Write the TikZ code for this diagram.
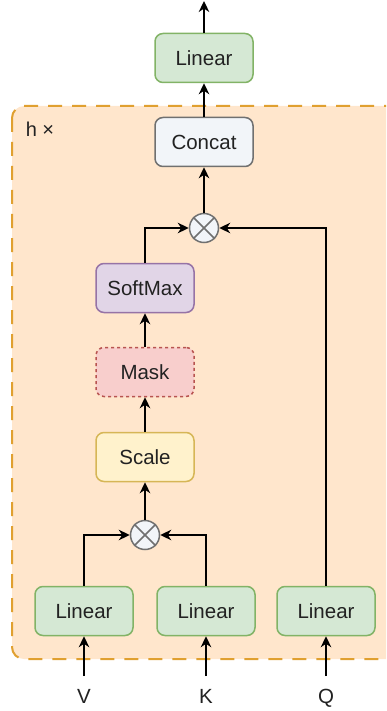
\documentclass[tikz,border=0pt]{standalone}
\usepackage{fontspec}
\setmainfont{Liberation Sans}
\usetikzlibrary{arrows.meta}

\definecolor{grpfill}{HTML}{FFE6CC}
\definecolor{grpline}{HTML}{E0A030}
\definecolor{linfill}{HTML}{D5E8D4}
\definecolor{linline}{HTML}{82B366}
\definecolor{catfill}{HTML}{F2F5F9}
\definecolor{catline}{HTML}{707070}
\definecolor{smfill}{HTML}{E1D5E7}
\definecolor{smline}{HTML}{9673A6}
\definecolor{mskfill}{HTML}{F8CECC}
\definecolor{mskline}{HTML}{B85450}
\definecolor{scfill}{HTML}{FFF2CC}
\definecolor{scline}{HTML}{D6B656}
\definecolor{txt}{HTML}{222222}

\tikzset{
  block/.style={draw, rounded corners=8pt, line width=1.5pt, minimum width=98pt,
    minimum height=49pt, inner sep=0pt, font=\fontsize{20.5}{23}\selectfont, text=txt},
  linblock/.style={block, fill=linfill, draw=linline},
  mult/.style={circle, draw=catline, fill=catfill, line width=1.5pt, minimum size=29pt, inner sep=0pt},
  inlabel/.style={font=\fontsize{20.5}{23}\selectfont, text=txt, inner sep=0pt, anchor=base},
  flow/.style={line width=2pt, -{Stealth[length=11pt,width=10.5pt,inset=3.5pt]}}
}

\begin{document}
\begin{tikzpicture}[x=1pt, y=-1pt]
\clip (0,0) rectangle (386,711);
\useasboundingbox (0,0) rectangle (386,711);

% repeated head
\draw[fill=grpfill, draw=grpline, line width=2pt, dash pattern=on 14pt off 10pt, rounded corners=12pt]
  (12,106) rectangle (410,659);
\node[font=\fontsize{20}{22}\selectfont, text=txt] at (40,129) {h ×};

\node[linblock] (lv) at (84,611) {Linear};
\node[linblock] (lk) at (206,611) {Linear};
\node[linblock] (lq) at (326,611) {Linear};

\node[inlabel] (v) at (84,703) {V};
\node[inlabel] (k) at (206,703) {K};
\node[inlabel] (q) at (326,703) {Q};
\coordinate (vin) at (84,676);
\coordinate (kin) at (206,676);
\coordinate (qin) at (326,676);

\node[mult] (mul1) at (145,535) {};
\node[block, fill=scfill, draw=scline] (scale) at (145,457) {Scale};
\node[block, fill=mskfill, draw=mskline, dashed] (mask) at (145,372) {Mask};
\node[block, fill=smfill, draw=smline] (sm) at (145,288) {SoftMax};
\node[mult] (mul2) at (204,228) {};
\node[block, fill=catfill, draw=catline] (concat) at (204,142) {Concat};
\node[linblock] (lout) at (204,58) {Linear};
\coordinate (out) at (204,1);

% crosses in the product nodes
\foreach \m in {mul1, mul2} {
  \draw[catline, line width=1.5pt] (\m.north west) -- (\m.south east);
  \draw[catline, line width=1.5pt] (\m.north east) -- (\m.south west);
}

\draw[flow] (vin) -- (lv);
\draw[flow] (kin) -- (lk);
\draw[flow] (qin) -- (lq);
\draw[flow] (lv.north) |- (mul1.west);
\draw[flow] (lk.north) |- (mul1.east);
\draw[flow] (mul1) -- (scale);
\draw[flow] (scale) -- (mask);
\draw[flow] (mask) -- (sm);
\draw[flow] (sm.north) |- (mul2.west);
\draw[flow] (lq.north) |- (mul2.east);
\draw[flow] (mul2) -- (concat);
\draw[flow] (concat) -- (lout);
\draw[flow] (lout) -- (out);
\end{tikzpicture}
\end{document}
